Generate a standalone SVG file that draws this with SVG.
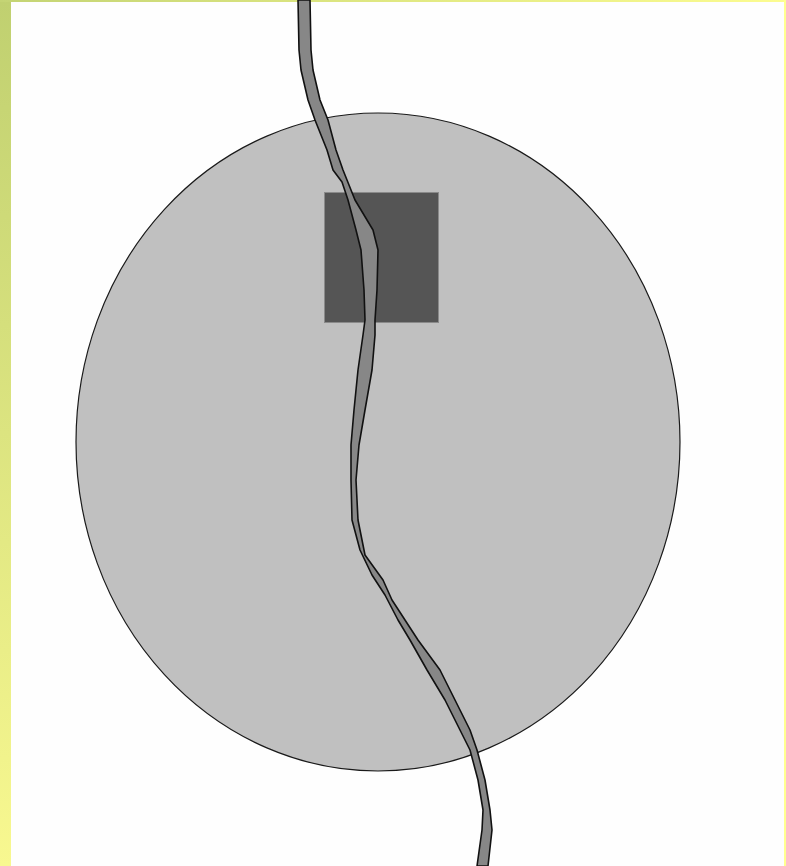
<svg xmlns="http://www.w3.org/2000/svg" width="786" height="866" viewBox="0 0 786 866">
<defs>
<linearGradient id="lg" x1="0" y1="0" x2="0" y2="1"><stop offset="0" stop-color="#c0d070"/><stop offset="1" stop-color="#f8f890"/></linearGradient>
<linearGradient id="tg" x1="0" y1="0" x2="1" y2="0"><stop offset="0" stop-color="#c4d474"/><stop offset="1" stop-color="#fcfc90"/></linearGradient>
<style>
.body{fill:#c0c0c0;stroke:#1a1a1a;stroke-width:1.2}
.box{fill:#555555;stroke:#8a8a8a;stroke-width:1}
.river{fill:#878787;stroke:#111;stroke-width:1.6;stroke-linejoin:round}
</style>
</defs>
<rect width="786" height="866" fill="#fefefe"/>
<rect x="0" y="0" width="11" height="866" fill="url(#lg)"/>
<rect x="0" y="0" width="786" height="2" fill="url(#tg)"/>
<rect x="784" y="0" width="2" height="866" fill="#ffff90"/>
<g id="body"><ellipse class="body" cx="378" cy="442" rx="302" ry="329"/></g>
<g id="box"><rect class="box" x="324.5" y="192.5" width="114" height="130"/></g>
<g id="river"><path class="river" d="M298,0 L299,50 L301,70 L308,100 L315,120 L327,150 L333,170 L342,182 L348,200 L356,230 L361,250 L364,290 L365,320 L363,335 L358,370 L354,410 L351,445 L351,480 L352,520 L360,550 L372,575 L385,595 L398,620 L410,640 L427,670 L445,700 L460,730 L470,750 L478,780 L483,810 L482,830 L477,866 L488,866 L492,830 L490,810 L485,780 L477,750 L470,730 L455,700 L440,670 L418,640 L405,620 L392,600 L383,580 L365,555 L358,520 L356,480 L359,445 L365,410 L372,370 L375,335 L375,320 L377,290 L378,250 L373,230 L355,200 L347,180 L343,170 L336,150 L328,120 L320,100 L313,70 L311,50 L310,0 Z"/></g>
</svg>
